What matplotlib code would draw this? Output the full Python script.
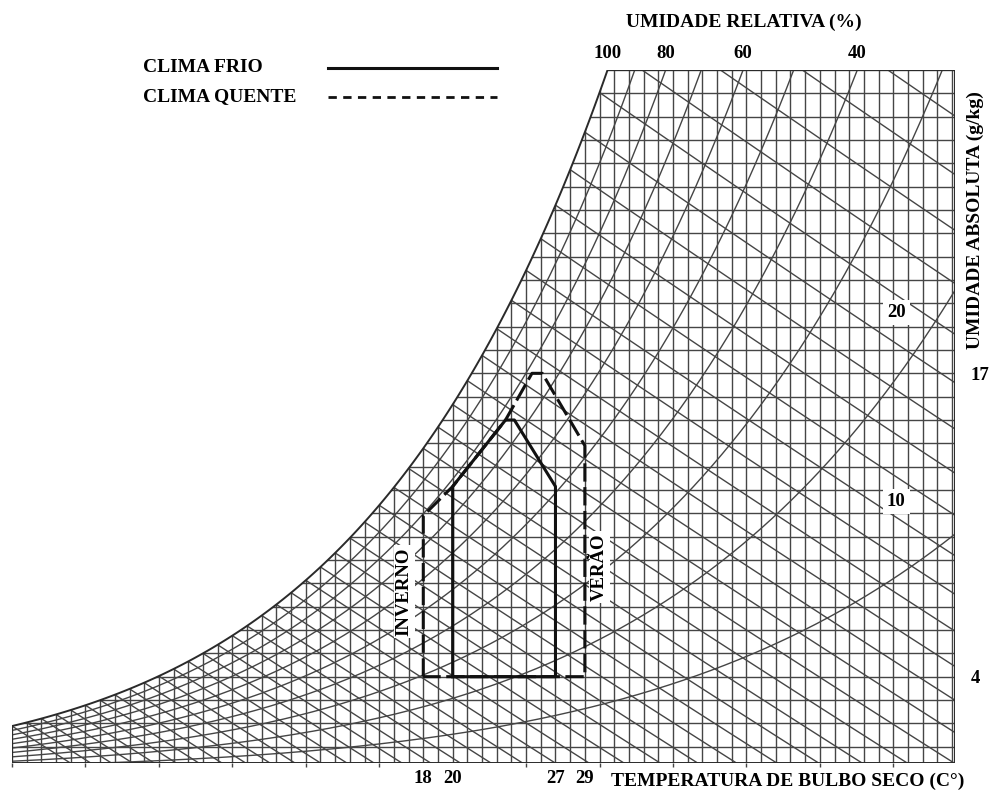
import numpy as np
import matplotlib
matplotlib.use("Agg")
import matplotlib.pyplot as plt
from matplotlib.patches import Polygon
from matplotlib.lines import Line2D

plt.rcParams['font.family'] = ['Liberation Serif', 'DejaVu Serif']
plt.rcParams['font.weight'] = 'bold'

# pressao atmosferica da carta (kPa)
P_ATM = 95.0

# linhas da carta
dry_bulb = list(range(-10, 55))       # temperatura de bulbo seco, C
abs_hum = list(range(1, 31))          # umidade absoluta, g/kg
rel_hum = [10, 20, 30, 40, 50, 60, 70, 80, 90]
wet_bulb = list(range(-10, 40))       # temperatura de bulbo umido, C
rh_labels = [100, 80, 60, 40]

t_min, t_max = -10.0, 54.2
w_min, w_max = 0.3, 30.0

# zona de conforto - clima frio
frio_t = [20, 20, 23.6, 24.2, 27, 27, 20]
frio_w = [4, 12.15, 15, 15, 12.15, 4, 4]
# zona de conforto - clima quente
quente_t = [18, 18, 20, 23.6, 25.4, 26.1, 29, 29, 18]
quente_w = [4, 10.9, 12.15, 15, 17, 17, 13.9, 4, 4]

x_ticks = [18, 20, 27, 29]
y_ticks = [4, 17]
inner_labels = [(50.2, 19.6, '20'), (50.2, 11.5, '10')]


def p_sat(t):
    return 0.61094 * np.exp(17.625 * t / (t + 243.04))


def w_from_pv(pv):
    return 622.0 * pv / (P_ATM - pv)


fig = plt.figure(figsize=(9.91, 7.94), dpi=100)
ax = fig.add_axes([12 / 991, 31 / 794, 943 / 991, 693 / 794])
ax.set_xlim(t_min, t_max)
ax.set_ylim(w_min, w_max)
for s in ax.spines.values():
    s.set_visible(False)

# curva de saturacao e contorno da carta
ts = np.linspace(t_min, 40, 800)
ws = w_from_pv(p_sat(ts))
t_top = np.interp(w_max, ws, ts)
keep = ts < t_top
outline = list(zip(ts[keep], ws[keep])) + [(t_top, w_max), (t_max, w_max),
                                          (t_max, w_min), (t_min, w_min)]
region = Polygon(outline, closed=True, fill=False, edgecolor='#2a2a2a', lw=1.4, zorder=3)
ax.add_patch(region)

gc = '#454545'
glw = 1.0
lines = []
for t in dry_bulb:
    lines += ax.plot([t, t], [w_min, w_max], color=gc, lw=glw)
for w in abs_hum:
    lines += ax.plot([t_min, t_max], [w, w], color=gc, lw=glw)
tt = np.linspace(t_min, t_max, 600)
for rh in rel_hum:
    lines += ax.plot(tt, w_from_pv(rh / 100 * p_sat(tt)), color=gc, lw=glw)
for twb in wet_bulb:
    t = np.linspace(twb, t_max + 2, 60)
    ws_wb = w_from_pv(p_sat(twb)) / 1000
    w = ((2501 - 2.326 * twb) * ws_wb - 1.006 * (t - twb)) / (2501 + 1.86 * t - 4.186 * twb)
    lines += ax.plot(t, w * 1000, color=gc, lw=glw)
for ln in lines:
    ln.set_clip_path(region)

# zonas de conforto
ax.plot(quente_t, quente_w, color='#111111', lw=2.2, ls=(0, (6, 1.8)), zorder=5)
ax.plot(frio_t, frio_w, color='#111111', lw=2.2, zorder=6)

box = dict(facecolor='white', edgecolor='none', pad=1.5)
ax.text(16.7, 7.65, 'INVERNO', rotation=90, ha='center', va='center',
        fontsize=13.5, bbox=box, zorder=7)
ax.text(30.0, 8.7, 'VERÃO', rotation=90, ha='center', va='center',
        fontsize=13.5, bbox=box, zorder=7)
for x, y, s in inner_labels:
    ax.text(x, y, s, ha='center', va='center', fontsize=13.5,
            bbox=dict(facecolor='white', edgecolor='none', pad=3), zorder=7)

# eixos
ax.set_xticks(x_ticks)
ax.set_xticklabels([str(v) for v in x_ticks], fontsize=13.5)
ax.set_xticks(range(-10, 55, 5), minor=True)
ax.tick_params(axis='x', which='major', length=0, pad=5)
ax.tick_params(axis='x', which='minor', length=3, width=1, color='#444444')
ax.yaxis.tick_right()
ax.set_yticks(y_ticks)
ax.set_yticklabels([str(v) for v in y_ticks], fontsize=13.5)
ax.tick_params(axis='y', length=0, pad=11)

# rotulos de umidade relativa no topo
for rh in rh_labels:
    x_lab = np.interp(w_max, w_from_pv(rh / 100 * p_sat(tt)), tt)
    ax.text(x_lab, w_max + 0.35, str(rh), ha='center', va='bottom', fontsize=13.5)

fig.text(744 / 991, 1 - 22 / 794, 'UMIDADE RELATIVA (%)', ha='center', va='center', fontsize=14)
fig.text(975 / 991, 1 - 220 / 794, 'UMIDADE ABSOLUTA (g/kg)', rotation=90,
         ha='center', va='center', fontsize=14)
fig.text(788 / 991, 1 - 781 / 794, 'TEMPERATURA DE BULBO SECO (C°)', ha='center',
         va='center', fontsize=14)

# legenda
fig.text(143 / 991, 1 - 68 / 794, 'CLIMA FRIO', ha='left', va='center', fontsize=14)
fig.text(143 / 991, 1 - 97 / 794, 'CLIMA QUENTE', ha='left', va='center', fontsize=14)
fig.add_artist(Line2D([328 / 991, 497 / 991], [1 - 68 / 794, 1 - 68 / 794],
                      color='#111111', lw=2.2))
fig.add_artist(Line2D([328 / 991, 497 / 991], [1 - 97 / 794, 1 - 97 / 794],
                      color='#111111', lw=2.0, ls=(0, (3, 2.3))))

fig.savefig('out.png', dpi=100)
